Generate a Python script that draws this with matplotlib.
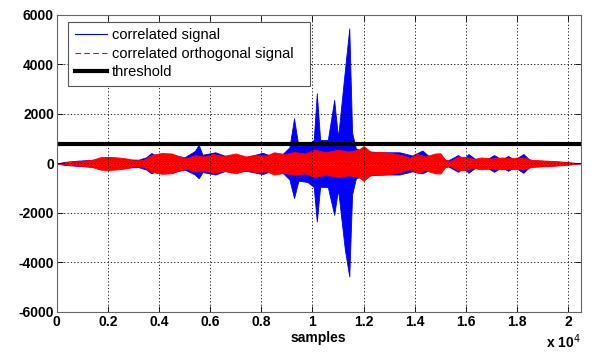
import matplotlib.pyplot as plt
from matplotlib.lines import Line2D

# огибающая синего сигнала (отсчёт, верх, низ)
blue_x = [0, 300, 800, 1500, 2500, 3200, 3500, 3700, 3900, 4500, 5000, 5400,
          5550, 5700, 6200, 6600, 6900, 7400, 8050, 8400, 8800, 9100, 9280,
          9450, 9800, 10050, 10170, 10300, 10600, 10850, 11000, 11270, 11440,
          11550, 11700, 12000, 12700, 13400, 13900, 14300, 14600, 15000, 15300,
          15700, 15900, 16100, 16400, 16800, 17100, 17400, 17650, 17900, 18250,
          18500, 19500, 20500]
blue_hi = [0, 60, 110, 150, 170, 150, 250, 420, 300, 350, 250, 500,
           750, 350, 450, 300, 350, 250, 430, 300, 350, 650, 1825,
           700, 750, 950, 2835, 950, 950, 2565, 1050, 3780, 5460,
           1250, 600, 500, 450, 450, 320, 520, 250, 200, 120,
           340, 150, 380, 150, 150, 340, 150, 300, 150, 380,
           130, 80, 0]
blue_lo = [0, -60, -100, -140, -160, -150, -250, -400, -300, -350, -250, -450,
           -600, -350, -450, -300, -350, -300, -430, -300, -350, -650, -1400,
           -700, -750, -950, -2350, -950, -950, -2080, -1050, -3500, -4570,
           -1250, -600, -500, -450, -450, -320, -400, -250, -200, -120,
           -340, -150, -380, -150, -150, -340, -150, -300, -150, -380,
           -130, -80, 0]

# огибающая красного (ортогонального) сигнала
red_x = [0, 500, 1000, 1400, 1700, 2000, 2400, 2800, 3000, 3400, 3700, 4100,
         4500, 4800, 5100, 5400, 5800, 6100, 6500, 7000, 7400, 7800, 8200,
         8500, 8900, 9300, 9700, 10100, 10500, 11000, 11400, 11800, 12000,
         12300, 12700, 13100, 13500, 13800, 14100, 14400, 14800, 15000, 15200,
         15400, 15700, 16000, 16300, 16600, 17000, 17400, 17800, 18200, 18600,
         19200, 19800, 20500]
red_amp = [0, 60, 100, 150, 250, 270, 240, 190, 120, 140, 340, 420,
           400, 280, 220, 330, 280, 380, 300, 400, 280, 350, 320,
           450, 380, 460, 400, 550, 450, 550, 480, 550, 700,
           450, 460, 420, 330, 230, 380, 280, 400, 410, 140,
           100, 280, 260, 180, 240, 200, 240, 220, 240, 140,
           110, 70, 0]

threshold = 800
x_ticks = [0, 2000, 4000, 6000, 8000, 10000, 12000, 14000, 16000, 18000, 20000]
x_labels = ['0', '0.2', '0.4', '0.6', '0.8', '1', '1.2', '1.4', '1.6', '1.8', '2']
y_ticks = [-6000, -4000, -2000, 0, 2000, 4000, 6000]

plt.rcParams['font.family'] = ['Liberation Sans', 'DejaVu Sans']
plt.rcParams['axes.unicode_minus'] = False

fig = plt.figure(figsize=(5.91, 3.56), dpi=100)
ax = fig.add_axes([0.096, 0.124, 0.887, 0.834])

ax.fill_between(blue_x, blue_lo, blue_hi, color='#0000ff', lw=0.6)
ax.fill_between(red_x, [-a for a in red_amp], red_amp, color='#ff0000', lw=0.6)
ax.axhline(threshold, color='black', lw=3)

ax.set_xlim(0, 20500)
ax.set_ylim(-6000, 6000)
ax.set_xticks(x_ticks)
ax.set_xticklabels(x_labels)
ax.set_yticks(y_ticks)
ax.grid(True, color='black', linestyle=(0, (1.5, 2.5)), lw=0.6)
ax.tick_params(direction='in', top=True, right=True, length=4, width=0.6,
               labelsize=10, pad=2)
for lab in ax.get_xticklabels() + ax.get_yticklabels():
    lab.set_fontweight('bold')
for s in ax.spines.values():
    s.set_color('#666666')
    s.set_linewidth(0.8)

ax.set_xlabel('samples', fontsize=10, fontweight='bold', labelpad=2)
fig.text(0.983, 0.022, 'x 10$^{4}$', ha='right', fontsize=10, fontweight='bold')

handles = [Line2D([], [], color='#0000ff', lw=0.8),
           Line2D([], [], color='#ff0000', lw=0.8, ls=(0, (5, 3))),
           Line2D([], [], color='black', lw=3)]
leg = ax.legend(handles, ['correlated signal', 'correlated orthogonal signal', 'threshold'],
                loc='upper left', bbox_to_anchor=(0.022, 0.977, 0.462, 0.0),
                mode='expand', fontsize=10.5,
                fancybox=False, framealpha=1, edgecolor='#555555',
                handlelength=2.2, labelspacing=0.3, borderpad=0.45,
                handletextpad=0.35, borderaxespad=0)
leg.get_frame().set_linewidth(0.8)

fig.savefig('out.png', dpi=100)
